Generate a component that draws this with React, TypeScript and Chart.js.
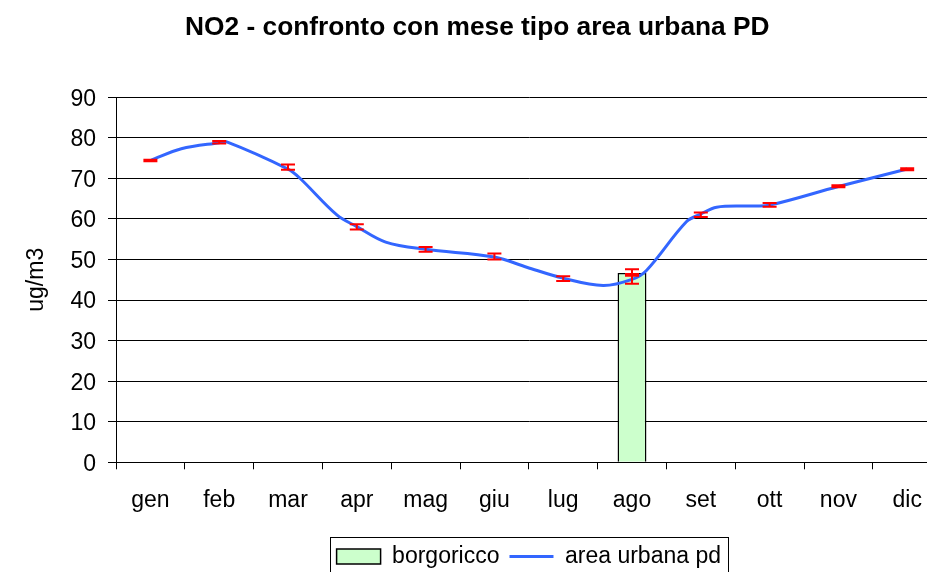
import React, { useEffect, useRef } from "react";
import { Chart, registerables } from "chart.js";

Chart.register(...registerables);

const months = ["gen", "feb", "mar", "apr", "mag", "giu", "lug", "ago", "set", "ott", "nov", "dic"];
const borgoricco = [null, null, null, null, null, null, null, 46.7, null, null, null, null];
const borgoriccoErrLow = [null, null, null, null, null, null, null, 46.0, null, null, null, null];
const borgoriccoErrHigh = [null, null, null, null, null, null, null, 47.6, null, null, null, null];

// area urbana pd: positions in month units (category centre = index + 0.5)
const areaX = [0.5, 0.95, 1.5, 1.61, 2.5, 2.67, 3.21, 3.5, 3.92, 4.5, 5.5, 5.97, 6.5, 7.08, 7.5, 7.71, 8.29, 8.5, 8.73, 9.22, 9.5, 10.5, 11.5];
const areaY = [74.4, 77.3, 78.8, 79.0, 72.3, 70.1, 61.0, 58.1, 54.3, 52.5, 50.6, 48.1, 45.4, 43.6, 45.1, 47.3, 59.3, 61.2, 62.9, 63.2, 63.4, 68.0, 72.3];
const areaErrLow = [74.2, 78.6, 72.1, 57.4, 51.9, 50.0, 44.7, 44.0, 60.5, 63.0, 67.8, 72.0];
const areaErrHigh = [74.6, 79.2, 73.4, 58.7, 53.1, 51.5, 45.9, 46.4, 61.6, 63.9, 68.3, 72.5];

const yTicks = [0, 10, 20, 30, 40, 50, 60, 70, 80, 90];

const FONT = "'Liberation Sans', Arial, sans-serif";
const BLUE = "#3366ff";

const errorBarPlugin = {
  id: "errorBars",
  afterDatasetsDraw(chart: any) {
    const ctx = chart.ctx;
    const xs = chart.scales.x;
    const ys = chart.scales.y;
    const draw = (lows: (number | null)[], highs: (number | null)[]) => {
      for (let i = 0; i < lows.length; i++) {
        const lo = lows[i];
        const hi = highs[i];
        if (lo == null || hi == null) continue;
        const x = xs.getPixelForValue(i);
        const y1 = ys.getPixelForValue(lo);
        const y2 = ys.getPixelForValue(hi);
        ctx.save();
        ctx.strokeStyle = "#ff0000";
        ctx.lineWidth = 2;
        ctx.beginPath();
        ctx.moveTo(x, y1);
        ctx.lineTo(x, y2);
        ctx.moveTo(x - 7, y1);
        ctx.lineTo(x + 7, y1);
        ctx.moveTo(x - 7, y2);
        ctx.lineTo(x + 7, y2);
        ctx.stroke();
        ctx.restore();
      }
    };
    draw(areaErrLow, areaErrHigh);
    draw(borgoriccoErrLow, borgoriccoErrHigh);
  },
};

const legendBoxPlugin = {
  id: "legendBox",
  afterDraw(chart: any) {
    const lg = chart.legend;
    if (!lg || !lg.legendHitBoxes || !lg.legendHitBoxes.length) return;
    const boxes = lg.legendHitBoxes;
    let l = Infinity, r = -Infinity, t = Infinity, b = -Infinity;
    boxes.forEach((h: any) => {
      l = Math.min(l, h.left);
      r = Math.max(r, h.left + h.width);
      t = Math.min(t, h.top);
      b = Math.max(b, h.top + h.height);
    });
    const ctx = chart.ctx;
    ctx.save();
    ctx.strokeStyle = "#000";
    ctx.lineWidth = 1;
    ctx.strokeRect(Math.round(l - 7) + 0.5, Math.round(t - 8) + 0.5, Math.round(r - l + 14), Math.round(b - t + 16));
    ctx.restore();
  },
};

export default function App() {
  const ref = useRef<HTMLCanvasElement | null>(null);
  useEffect(() => {
    if (!ref.current) return;
    const chart = new Chart(ref.current, {
      type: "bar",
      data: {
        labels: months,
        datasets: [
          {
            type: "bar",
            label: "borgoricco",
            data: borgoricco as any,
            backgroundColor: "#ccffcc",
            borderColor: "#000000",
            borderWidth: 1.5,
            barPercentage: 0.42,
            categoryPercentage: 1,
            grouped: false,
            order: 2,
          },
          {
            type: "line",
            label: "area urbana pd",
            data: areaX.map((x, i) => ({ x, y: areaY[i] })) as any,
            xAxisID: "x2",
            borderColor: BLUE,
            borderWidth: 3,
            pointRadius: 0,
            tension: 0.35,
            fill: false,
            order: 1,
          },
        ],
      },
      options: {
        responsive: false,
        animation: false,
        devicePixelRatio: 1,
        layout: { padding: { left: 13, right: 18.4, top: 0, bottom: 0 } },
        plugins: {
          title: {
            display: true,
            text: "NO2 - confronto con mese tipo area urbana PD",
            font: { family: FONT, size: 26.3, weight: "bold" },
            color: "#000",
            padding: { top: 12, bottom: 53.7 },
          },
          legend: {
            position: "bottom",
            fullSize: false,
            labels: {
              font: { family: FONT, size: 23 },
              color: "#000",
              usePointStyle: true,
              pointStyleWidth: 44,
              boxHeight: 15,
              padding: 10,
              sort: (a: any, b: any) => a.datasetIndex - b.datasetIndex,
              generateLabels: (chart: any) => {
                const items = Chart.defaults.plugins.legend.labels.generateLabels(chart);
                return items.map((it: any) => {
                  if (it.datasetIndex === 0) {
                    return { ...it, pointStyle: "rect", fillStyle: "#ccffcc", strokeStyle: "#000", lineWidth: 1.5 };
                  }
                  return { ...it, pointStyle: "line", strokeStyle: BLUE, lineWidth: 3 };
                });
              },
            },
          },
          tooltip: { enabled: false },
        },
        scales: {
          x: {
            type: "category",
            offset: true,
            afterFit: (axis: any) => {
              axis.height = 72.7;
            },
            grid: {
              offset: true,
              drawOnChartArea: false,
              drawTicks: true,
              tickLength: 7,
              color: "#000",
            },
            border: { display: true, color: "#000", width: 1 },
            ticks: {
              font: { family: FONT, size: 23 },
              color: "#000",
              padding: 18,
              maxRotation: 0,
              autoSkip: false,
            },
          },
          x2: {
            type: "linear",
            display: false,
            offset: false,
            grid: { offset: false },
            min: 0,
            max: 12,
          },
          y: {
            min: 0,
            max: 90,
            afterFit: (axis: any) => {
              axis.width = 103;
            },
            afterBuildTicks: (axis: any) => {
              axis.ticks = yTicks.map((v) => ({ value: v }));
            },
            grid: {
              color: "#000",
              lineWidth: 1,
              drawTicks: true,
              tickLength: 8,
            },
            border: { display: true, color: "#000", width: 1 },
            ticks: {
              font: { family: FONT, size: 23 },
              color: "#000",
              padding: 12,
              labelOffset: 2,
            },
            title: {
              display: true,
              text: "ug/m3",
              font: { family: FONT, size: 23 },
              color: "#000",
              padding: { top: 10, bottom: 0 },
            },
          },
        },
      },
      plugins: [errorBarPlugin, legendBoxPlugin],
    } as any);
    return () => chart.destroy();
  }, []);

  return (
    <div style={{ position: "absolute", left: 0, top: 0, width: 927, height: 572, overflow: "hidden", background: "#fff" }}>
      <canvas ref={ref} width={960} height={578} style={{ display: "block" }} />
    </div>
  );
}
